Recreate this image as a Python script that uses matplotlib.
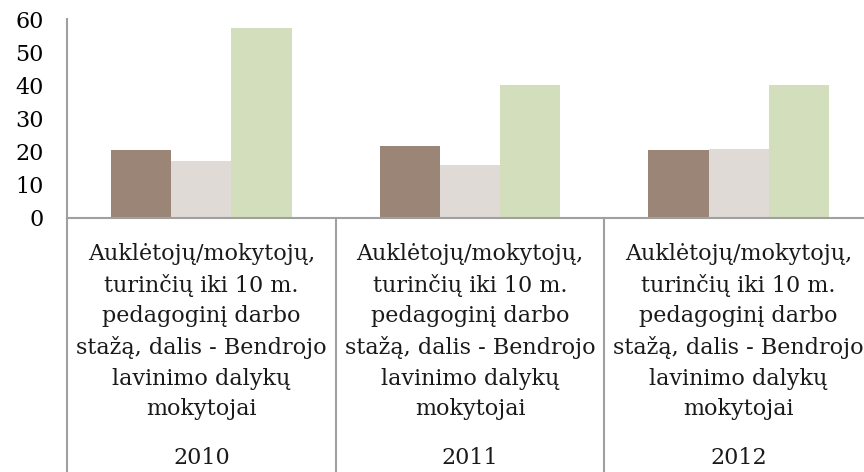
import matplotlib
matplotlib.use('Agg')
import matplotlib.pyplot as plt
import numpy as np

years = ['2010', '2011', '2012']
category = 'Auklėtojų/mokytojų,\nturinčių iki 10 m.\npedagoginį darbo\nstažą, dalis - Bendrojo\nlavinimo dalykų\nmokytojai'
series1 = [20.5, 21.7, 20.5]
series2 = [17.3, 16.0, 20.8]
series3 = [57.2, 40.1, 40.1]
colors = ['#9b8577', '#dfdad6', '#d3debc']

W, H = 864, 472
plt.rcParams['font.family'] = ['DejaVu Serif']
fig = plt.figure(figsize=(W / 100, H / 100), dpi=100)
# axes spans x 67..873 px, y 19..218 px (from top)
ax = fig.add_axes([67 / W, (H - 218) / H, 806 / W, 199 / H])

x = np.arange(len(years))
bw = 0.224
for i, (vals, c) in enumerate(zip([series1, series2, series3], colors)):
    ax.bar(x + (i - 1) * bw, vals, width=bw, color=c, edgecolor='none')

ax.set_xlim(-0.5, 2.5)
ax.set_ylim(0, 60)
ax.set_yticks(range(0, 61, 10))
ax.tick_params(axis='y', length=0, labelsize=16, pad=17)
ax.set_xticks([])
for s in ['top', 'right']:
    ax.spines[s].set_visible(False)
for s in ['left', 'bottom']:
    ax.spines[s].set_color('#a0a0a0')
    ax.spines[s].set_linewidth(1.5)

# separators and labels below axis
axh = 199.0
for b in [-0.5, 0.5, 1.5]:
    ax.plot([b, b], [0, -(H - 218) / axh], transform=ax.get_xaxis_transform(),
            color='#a0a0a0', lw=1.5, clip_on=False)
for i, yr in enumerate(years):
    ax.text(i, -(331.5 - 218) / axh, category, transform=ax.get_xaxis_transform(),
            ha='center', va='center', fontsize=16, linespacing=1.5, color='#1a1a1a')
    ax.text(i, -(458 - 218) / axh, yr, transform=ax.get_xaxis_transform(),
            ha='center', va='center', fontsize=16, color='#1a1a1a')

fig.savefig('out.png', dpi=100)
